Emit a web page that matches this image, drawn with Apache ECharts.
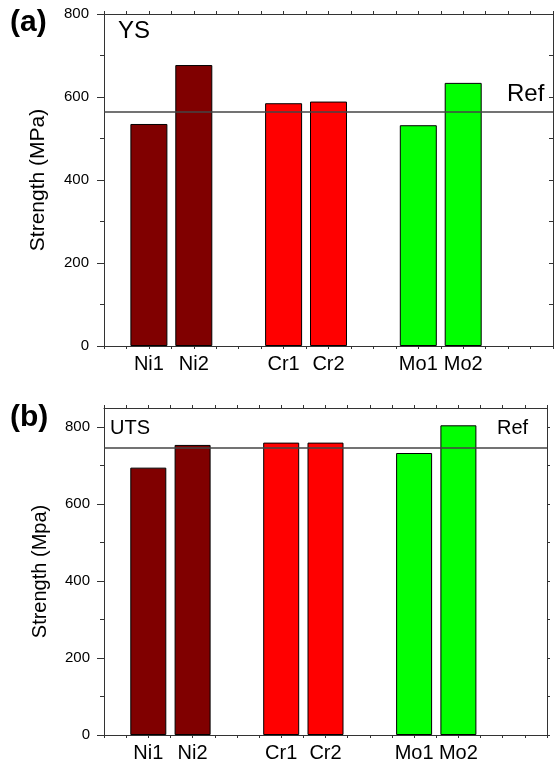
<!DOCTYPE html>
<html>
<head>
<meta charset="utf-8">
<script src="https://cdn.jsdelivr.net/npm/echarts@6/dist/echarts.min.js"></script>
<style>html,body{margin:0;padding:0;background:#fff}#c{width:556px;height:763px}</style>
</head>
<body>
<div id="c"></div>
<script>
// ---- data ----
const axisSlots = ['', 'Ni1', 'Ni2', '', 'Cr1', 'Cr2', '', 'Mo1', 'Mo2', '', ''];
const categories = ['Ni1', 'Ni2', 'Cr1', 'Cr2', 'Mo1', 'Mo2'];
const ysValues = [535, 677, 585, 589, 532, 634];
const utsValues = [695, 754, 760, 760, 733, 805];
const ysRef = 565;
const utsRef = 747;
const yMajorTicks = [0, 200, 400, 600, 800];
const yMinorTicks = [100, 300, 500, 700];
const yRightTicks = [0, 100, 200, 300, 400, 500, 600, 700, 800];

// ---- styling ----
const FONT = 'Liberation Sans, Arial, sans-serif';
const groupColors = { Ni: '#800000', Cr: '#ff0000', Mo: '#00ff00' };
const AX = '#333';

function buildData(values) {
  return axisSlots.map(function (s) {
    const i = categories.indexOf(s);
    if (s === '' || i < 0) return '-';
    return { value: values[i], itemStyle: { color: groupColors[s.slice(0, 2)] } };
  });
}

const chart = echarts.init(document.getElementById('c'), null, { renderer: 'canvas' });

function catAxis(g, fs) {
  return {
    gridIndex: g, type: 'category', data: axisSlots, boundaryGap: false, position: 'bottom',
    axisLine: { show: true, onZero: false, lineStyle: { color: AX, width: 1 } },
    axisTick: { show: false },
    axisLabel: { interval: 0, fontSize: fs, color: '#000', margin: 8, fontFamily: FONT },
    splitLine: { show: false }
  };
}
function tickAxis(g, pos) {
  return {
    gridIndex: g, type: 'value', min: 0, max: 10, interval: 0.5, position: pos,
    axisLine: { show: pos === 'top', onZero: false, lineStyle: { color: AX, width: 1 } },
    axisTick: { show: true, length: 3, inside: false, lineStyle: { color: AX } },
    axisLabel: { show: false }, splitLine: { show: false }
  };
}

const option = {
  animation: false,
  backgroundColor: '#fff',
  grid: [
    { left: 104, top: 14, width: 451, height: 332 },
    { left: 104, top: 408, width: 443, height: 328 }
  ],
  xAxis: [
    catAxis(0, 20), tickAxis(0, 'bottom'), tickAxis(0, 'top'),
    catAxis(1, 20), tickAxis(1, 'bottom'), tickAxis(1, 'top')
  ],
  yAxis: [
    {
      gridIndex: 0, type: 'value', min: 0, max: 800, interval: 200, position: 'left',
      name: 'Strength (MPa)', nameLocation: 'middle', nameGap: 55,
      nameTextStyle: { fontSize: 21, color: '#000', fontFamily: FONT },
      axisLine: { show: true, onZero: false, lineStyle: { color: AX } },
      axisTick: { show: true, length: 7, lineStyle: { color: AX } },
      minorTick: { show: true, splitNumber: 2, length: 4, lineStyle: { color: AX } },
      axisLabel: { fontSize: 15, color: '#000', margin: 15, fontFamily: FONT },
      splitLine: { show: false }
    },
    {
      gridIndex: 0, type: 'value', min: 0, max: 800, interval: 100, position: 'right',
      axisLine: { show: true, onZero: false, lineStyle: { color: AX } },
      axisTick: { show: true, inside: true, length: 4, lineStyle: { color: AX } },
      axisLabel: { show: false }, splitLine: { show: false }
    },
    {
      gridIndex: 1, type: 'value', min: 0, max: 850, position: 'left',
      name: 'Strength (Mpa)', nameLocation: 'middle', nameGap: 54,
      nameTextStyle: { fontSize: 20, color: '#000', fontFamily: FONT },
      axisLine: { show: true, onZero: false, lineStyle: { color: AX } },
      axisTick: { show: true, length: 7, customValues: yMajorTicks, lineStyle: { color: AX } },
      axisLabel: { fontSize: 15, color: '#000', margin: 14, fontFamily: FONT, customValues: yMajorTicks },
      splitLine: { show: false }
    },
    {
      gridIndex: 1, type: 'value', min: 0, max: 850, position: 'left',
      axisLine: { show: false, onZero: false },
      axisTick: { show: true, length: 4, customValues: yMinorTicks, lineStyle: { color: AX } },
      axisLabel: { show: false }, splitLine: { show: false }
    },
    {
      gridIndex: 1, type: 'value', min: 0, max: 850, position: 'right',
      axisLine: { show: true, onZero: false, lineStyle: { color: AX } },
      axisTick: { show: true, inside: false, length: 3, customValues: yRightTicks, lineStyle: { color: AX } },
      axisLabel: { show: false }, splitLine: { show: false }
    }
  ],
  series: [
    {
      type: 'bar', xAxisIndex: 0, yAxisIndex: 0, barWidth: 37,
      data: buildData(ysValues),
      itemStyle: { borderColor: '#000', borderWidth: 1 },
      markLine: {
        silent: true, symbol: 'none', label: { show: false },
        lineStyle: { color: '#444', width: 1.5, type: 'solid' },
        data: [{ yAxis: ysRef }]
      }
    },
    {
      type: 'bar', xAxisIndex: 3, yAxisIndex: 2, barWidth: 36,
      data: buildData(utsValues),
      itemStyle: { borderColor: '#000', borderWidth: 1 },
      markLine: {
        silent: true, symbol: 'none', label: { show: false },
        lineStyle: { color: '#444', width: 1.5, type: 'solid' },
        data: [{ yAxis: utsRef }]
      }
    }
  ],
  graphic: [
    { type: 'text', left: 10, top: 8, style: { text: '(a)', font: 'bold 30px ' + FONT, fill: '#000' } },
    { type: 'text', left: 10, top: 403, style: { text: '(b)', font: 'bold 30px ' + FONT, fill: '#000' } },
    { type: 'text', x: 118, y: 31, style: { text: 'YS', font: '24px ' + FONT, fill: '#000', verticalAlign: 'middle' } },
    { type: 'text', x: 507, y: 94, style: { text: 'Ref', font: '24px ' + FONT, fill: '#000', verticalAlign: 'middle' } },
    { type: 'text', x: 110, y: 428, style: { text: 'UTS', font: '20px ' + FONT, fill: '#000', verticalAlign: 'middle' } },
    { type: 'text', x: 497, y: 428, style: { text: 'Ref', font: '20px ' + FONT, fill: '#000', verticalAlign: 'middle' } }
  ]
};
chart.setOption(option);
</script>
</body>
</html>
